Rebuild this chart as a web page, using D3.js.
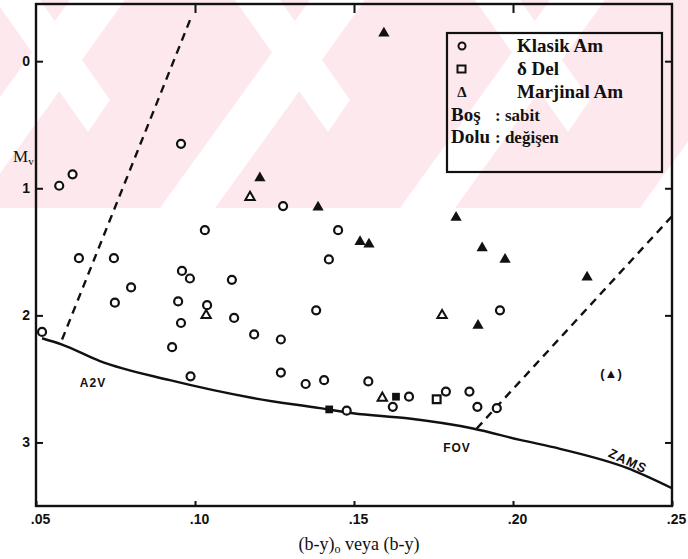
<!DOCTYPE html>
<html><head><meta charset="utf-8">
<script src="https://cdn.jsdelivr.net/npm/d3@7"></script>
<style>body{margin:0;background:#fff}svg{display:block}</style>
</head><body>
<svg id="c" width="688" height="559"></svg>
<script>
// ---- data ----
const xTicks = [0.05, 0.10, 0.15, 0.20, 0.25];
const xTickLabels = [".05", ".10", ".15", ".20", ".25"];
const yTicks = [0, 1, 2, 3];
const yTickLabels = ["0", "1", "2", "3"];

// Klasik Am, open (sabit)
const klasikOpen = [
  [0.0519,2.13],[0.0573,0.98],[0.0615,0.89],[0.0956,0.65],[0.0635,1.55],[0.0745,1.55],
  [0.0799,1.78],[0.0748,1.90],[0.0959,1.65],[0.0984,1.71],[0.0947,1.89],[0.0956,2.06],
  [0.0928,2.25],[0.1031,1.33],[0.1038,1.92],[0.1116,1.72],[0.1123,2.02],[0.1186,2.15],
  [0.1270,2.19],[0.1277,1.14],[0.1450,1.33],[0.1421,1.56],[0.1381,1.96],[0.1959,1.96],
  [0.0986,2.48],[0.1270,2.45],[0.1348,2.54],[0.1406,2.51],[0.1477,2.75],[0.1545,2.52],
  [0.1673,2.64],[0.1622,2.72],[0.1789,2.60],[0.1863,2.60],[0.1888,2.72],[0.1949,2.73]
];
// delta Del
const deltaOpen = [[0.1760,2.66]];
const deltaFilled = [[0.1422,2.74],[0.1632,2.64]];
// Marjinal Am
const marjinalOpen = [[0.1173,1.07],[0.1035,2.00],[0.1777,2.00],[0.1589,2.65]];
const marjinalFilled = [
  [0.1594,-0.22],[0.1204,0.92],[0.1387,1.15],[0.1519,1.42],[0.1547,1.44],
  [0.1821,1.23],[0.1903,1.47],[0.1975,1.56],[0.2233,1.70],[0.1890,2.08]
];
// ZAMS curve
const zams = [
  [0.0519,2.18],[0.0582,2.23],[0.0701,2.36],[0.0921,2.51],[0.1182,2.65],[0.1393,2.73],
  [0.1497,2.77],[0.1667,2.81],[0.1874,2.89],[0.2022,2.98],[0.2148,3.05],[0.2358,3.20],[0.2500,3.36]
];
// instability strip edges (dashed)
const blueEdge = [[0.0582,2.19],[0.0987,-0.34]];
const redEdge = [[0.1886,2.89],[0.2500,1.22]];

const legendRows = [
  {sym:"circle", label:"Klasik Am"},
  {sym:"square", label:"δ Del"},
  {sym:"triangle", label:"Marjinal Am"}
];

// ---- chart ----
const svg = d3.select("#c");
const x = d3.scaleLinear().domain([0.05, 0.25]).range([36, 672]);
const y = d3.scaleLinear().domain([-0.45, 3.5]).range([4, 506]);

// watermark band
const wm = svg.append("g");
wm.append("rect").attr("x",0).attr("y",0).attr("width",688).attr("height",208).attr("fill","#fde9ed");
const stripes = [-80, 160, 400, 640];
stripes.forEach(s => {
  wm.append("path").attr("fill","#fff")
    .attr("d", `M${s},208 L${s+55},208 L${s+205},0 L${s+150},0 Z`);
  wm.append("path").attr("fill","#fff")
    .attr("d", `M${s+75},0 L${s+120},0 L${s+190},100 L${s+168},132 Z`);
});

const ink = "#111";

// frame
svg.append("rect").attr("x",x(0.05)).attr("y",y(-0.45))
  .attr("width",x(0.25)-x(0.05)).attr("height",y(3.5)-y(-0.45))
  .attr("fill","none").attr("stroke",ink).attr("stroke-width",2.4);

// axes
const fontSans = "'Liberation Sans', Arial, sans-serif";
const fontSerif = "'Liberation Serif', 'Times New Roman', serif";

const gl = svg.append("g").attr("transform",`translate(${x(0.05)},0)`)
  .call(d3.axisLeft(y).tickValues(yTicks).tickFormat((d,i)=>yTickLabels[i]).tickSize(-7).tickPadding(6));
const gr = svg.append("g").attr("transform",`translate(${x(0.25)},0)`)
  .call(d3.axisRight(y).tickValues(yTicks).tickFormat("").tickSize(-7));
const gb = svg.append("g").attr("transform",`translate(0,${y(3.5)})`)
  .call(d3.axisBottom(x).tickValues(xTicks).tickFormat((d,i)=>xTickLabels[i]).tickSize(-5).tickPadding(8));
const gt = svg.append("g").attr("transform",`translate(0,${y(-0.45)})`)
  .call(d3.axisTop(x).tickValues(xTicks.slice(1,4)).tickFormat("").tickSize(-9));
[gl,gr,gb,gt].forEach(g=>{
  g.select(".domain").remove();
  g.selectAll(".tick line").attr("stroke",ink).attr("stroke-width",2);
  g.selectAll("text").attr("fill",ink).attr("font-family",fontSans).attr("font-weight","bold").attr("font-size",14);
});
gb.selectAll("text").attr("dx",4);

// axis titles
const mv = svg.append("text").attr("x",13).attr("y",162).attr("font-family",fontSerif)
  .attr("font-size",17).attr("fill",ink);
mv.append("tspan").text("M");
mv.append("tspan").attr("font-size",11).attr("dy",3).text("v");
const xl = svg.append("text").attr("x",359).attr("y",550).attr("text-anchor","middle")
  .attr("font-family",fontSerif).attr("font-size",18).attr("fill",ink);
xl.append("tspan").text("(b-y)");
xl.append("tspan").attr("font-size",12).attr("dy",3).text("o");
xl.append("tspan").attr("dy",-3).text(" veya (b-y)");

// lines
const line = d3.line().x(d=>x(d[0])).y(d=>y(d[1]));
svg.append("path").datum(zams).attr("d", d3.line().curve(d3.curveMonotoneX).x(d=>x(d[0])).y(d=>y(d[1])))
  .attr("fill","none").attr("stroke",ink).attr("stroke-width",2.4);
[blueEdge, redEdge].forEach(e=>{
  svg.append("path").datum(e).attr("d", line).attr("fill","none").attr("stroke",ink)
    .attr("stroke-width",2.4).attr("stroke-dasharray","8,6");
});

// annotations
const ann = (t,px,py,rot,fs,ls)=>svg.append("text").attr("x",px).attr("y",py).attr("text-anchor","middle")
  .attr("font-family",fontSans).attr("font-weight","bold").attr("font-size",fs||12).attr("fill",ink)
  .attr("letter-spacing",ls===undefined?1:ls)
  .attr("transform", rot?`rotate(${rot},${px},${py})`:null).text(t);
ann("A2V", 93, 387);
ann("FOV", 457, 452);
ann("ZAMS", 626, 465, 25, 13);
ann("(▲)", 611, 378, 0, 13, 0);

// markers
const symTri = d3.symbol().type(d3.symbolTriangle).size(38);
const symSq = d3.symbol().type(d3.symbolSquare).size(60);
const mg = svg.append("g");
mg.selectAll("circle.k").data(klasikOpen).join("circle")
  .attr("cx",d=>x(d[0])).attr("cy",d=>y(d[1])).attr("r",4)
  .attr("fill","#fff").attr("stroke",ink).attr("stroke-width",2.2);
mg.selectAll("path.dO").data(deltaOpen).join("path").attr("d",symSq)
  .attr("transform",d=>`translate(${x(d[0])},${y(d[1])})`).attr("fill","#fff").attr("stroke",ink).attr("stroke-width",2.2);
mg.selectAll("path.dF").data(deltaFilled).join("path").attr("d",symSq)
  .attr("transform",d=>`translate(${x(d[0])},${y(d[1])})`).attr("fill",ink);
mg.selectAll("path.mO").data(marjinalOpen).join("path").attr("d",symTri)
  .attr("transform",d=>`translate(${x(d[0])},${y(d[1])})`).attr("fill","#fff").attr("stroke",ink).attr("stroke-width",2);
mg.selectAll("path.mF").data(marjinalFilled).join("path").attr("d",d3.symbol().type(d3.symbolTriangle).size(55))
  .attr("transform",d=>`translate(${x(d[0])},${y(d[1])})`).attr("fill",ink);

// legend
const lg = svg.append("g");
lg.append("rect").attr("x",447).attr("y",33).attr("width",215).attr("height",139)
  .attr("fill","none").attr("stroke",ink).attr("stroke-width",2.2);
const rowY = [46, 69, 92, 115, 137];
const lf = 19;
legendRows.forEach((r,i)=>{
  const cy = rowY[i];
  if (r.sym==="circle") lg.append("circle").attr("cx",462).attr("cy",cy).attr("r",3.5).attr("fill","none").attr("stroke",ink).attr("stroke-width",2);
  if (r.sym==="square") lg.append("rect").attr("x",457.5).attr("y",cy-3.5).attr("width",8).attr("height",7).attr("fill","none").attr("stroke",ink).attr("stroke-width",2);
  if (r.sym==="triangle") lg.append("text").attr("x",462).attr("y",cy+5).attr("text-anchor","middle").attr("font-family",fontSerif).attr("font-weight","bold").attr("font-size",15).attr("fill",ink).text("Δ");
  lg.append("text").attr("x",517).attr("y",cy+6).attr("font-family",fontSerif).attr("font-weight","bold")
    .attr("font-size",lf).attr("fill",ink).text(r.label);
});
[["Boş",": sabit"],["Dolu",": değişen"]].forEach((p,i)=>{
  const cy = rowY[3+i];
  lg.append("text").attr("x",451).attr("y",cy+6).attr("font-family",fontSerif).attr("font-weight","bold").attr("font-size",lf).attr("fill",ink).text(p[0]);
  lg.append("text").attr("x",495).attr("y",cy+6).attr("font-family",fontSerif).attr("font-weight","bold").attr("font-size",17).attr("fill",ink).text(p[1]);
});
</script>
</body></html>
